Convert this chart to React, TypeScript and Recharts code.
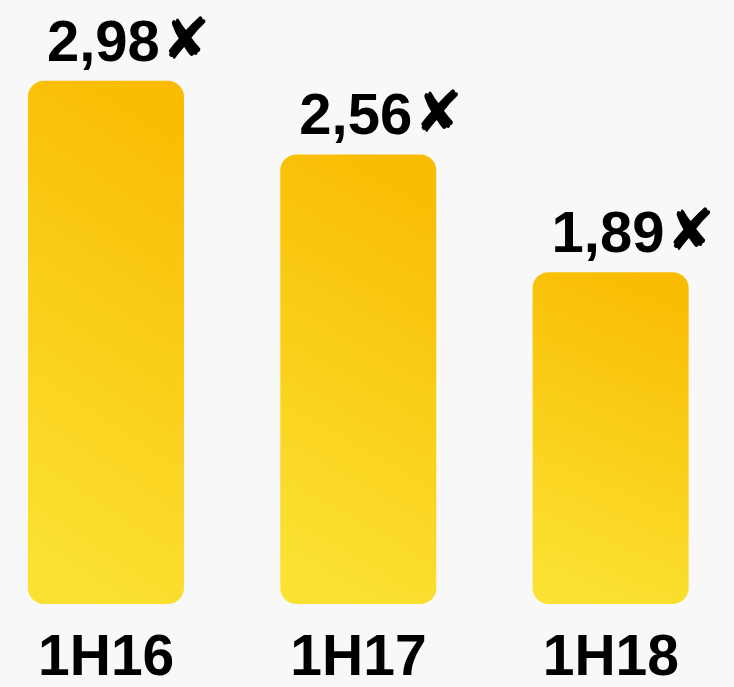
import React from 'react';
import { BarChart, Bar, XAxis, YAxis, LabelList } from 'recharts';

const categories = ['1H16', '1H17', '1H18'];
const values = [2.98, 2.56, 1.89];
const valueLabels = ['2,98', '2,56', '1,89'];

const data = categories.map((c, i) => ({ name: c, value: values[i], label: valueLabels[i] }));

const renderLabel = (props: any) => {
  const { x, y, index } = props;
  return (
    <text
      x={Number(x) + 19}
      y={Number(y) - 20}
      textAnchor="start"
      fill="#000"
      fontFamily="'Liberation Sans', Arial, sans-serif"
      fontWeight="bold"
      fontSize={58}
    >
      {valueLabels[index]}
      <tspan fontFamily="'DejaVu Sans', sans-serif" fontSize={58} dx={2} dy={-2}>✘</tspan>
    </text>
  );
};

export default function App() {
  return (
    <div style={{ position: 'absolute', left: 0, top: 0, width: 734, height: 687, background: '#f8f8f8' }}>
      <BarChart
        width={734}
        height={687}
        data={data}
        margin={{ top: 7, right: -3, bottom: 0, left: -20 }}
        barCategoryGap="19%"
      >
        <defs>
          <linearGradient id="barGrad" x1="0.4" y1="1" x2="0.6" y2="0">
            <stop offset="0%" stopColor="#FBE232" />
            <stop offset="100%" stopColor="#F9BC02" />
          </linearGradient>
        </defs>
        <YAxis hide domain={[0, 3.4]} />
        <XAxis
          dataKey="name"
          axisLine={false}
          tickLine={false}
          height={83}
          interval={0}
          tick={{ fontSize: 57, fontWeight: 'bold', fill: '#000', fontFamily: "'Liberation Sans', Arial, sans-serif", dy: 23 }}
        />
        <Bar dataKey="value" fill="url(#barGrad)" radius={16} isAnimationActive={false}>
          <LabelList dataKey="label" content={renderLabel} />
        </Bar>
      </BarChart>
    </div>
  );
}
